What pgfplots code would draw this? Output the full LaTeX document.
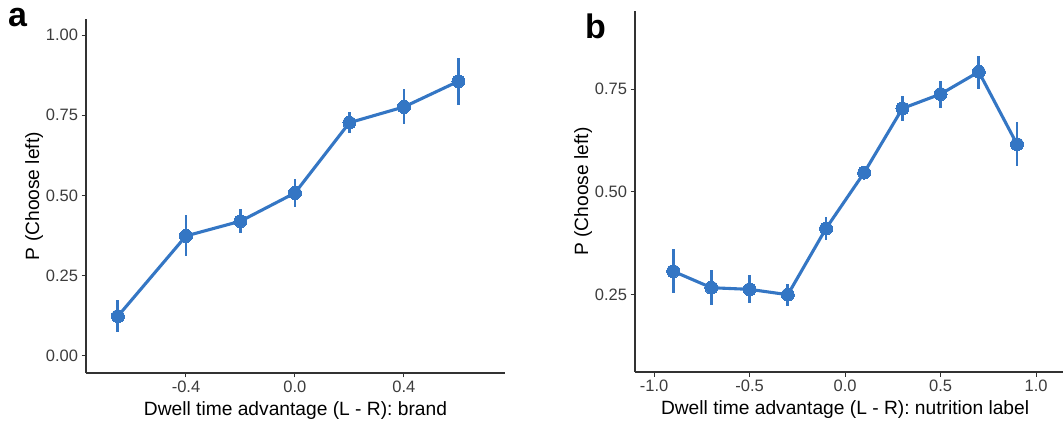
\documentclass[border=0pt]{standalone}
\usepackage{fontspec}
\setmainfont{Liberation Sans}
\usepackage{pgfplots}
\usepackage{pgfplotstable}
\pgfplotsset{compat=1.18}
\definecolor{ptblue}{RGB}{52,118,196}
\definecolor{axgrey}{RGB}{50,50,50}
\definecolor{tickgrey}{RGB}{60,60,60}

\pgfplotstableread{
x y ep em
-0.650 0.124 0.049 0.050
-0.4 0.374 0.065 0.063
-0.2 0.420 0.037 0.038
0.0 0.508 0.044 0.044
0.2 0.727 0.033 0.032
0.4 0.776 0.055 0.054
0.6 0.856 0.074 0.075
}\brandtab

\pgfplotstableread{
x y ep em
-0.9 0.307 0.054 0.054
-0.7 0.267 0.043 0.043
-0.5 0.263 0.034 0.034
-0.3 0.250 0.027 0.027
-0.1 0.411 0.028 0.028
0.1 0.547 0.016 0.016
0.3 0.703 0.030 0.030
0.5 0.738 0.032 0.033
0.7 0.792 0.039 0.041
0.9 0.616 0.053 0.053
}\nutritab

\pgfplotsset{
  panel/.style={
    scale only axis,
    axis lines=left,
    axis line style={-, line width=1.3pt, color=axgrey},
    tick align=outside,
    major tick length=4.5pt,
    tick style={line width=1pt, color=axgrey},
    minor tick num=0,
    ticklabel style={font=\fontsize{16.5}{18}\selectfont, text=tickgrey},
    /pgf/number format/assume math mode=true,
    label style={font=\fontsize{19.2}{21}\selectfont, text=black},
    ylabel style={at={(axis description cs:0,0.5)}, anchor=base, yshift=47pt},
    ylabel={P (Choose left)},
    clip=false,
  },
  dataline/.style={
    color=ptblue, line width=3.1pt, mark=*, mark size=6.5pt,
    mark options={line width=0pt, fill=ptblue, draw=ptblue},
    error bars/.cd, y dir=both, y explicit,
    error mark=none,
    error bar style={line width=2.8pt, color=ptblue},
  },
}

\begin{document}
\begin{tikzpicture}
\useasboundingbox (0pt,0pt) rectangle (1063pt,423pt);

\begin{axis}[panel,
  at={(86pt,50pt)}, anchor=south west,
  width=419pt, height=354pt,
  xmin=-0.767, xmax=0.771, ymin=-0.053, ymax=1.05,
  xtick={-0.4,0,0.4}, xticklabels={-0.4,0.0,0.4},
  ytick={0,0.25,0.5,0.75,1}, yticklabels={0.00,0.25,0.50,0.75,1.00},
  xlabel={Dwell time advantage (L - R): brand},
  xlabel style={at={(axis description cs:0.5,0)}, anchor=base, yshift=-42pt},
]
\addplot+[dataline] table[x=x, y=y, y error plus=ep, y error minus=em] {\brandtab};
\end{axis}

\begin{axis}[panel,
  at={(635pt,51pt)}, anchor=south west,
  width=440pt, height=361pt,
  xmin=-1.1, xmax=1.2037, ymin=0.062, ymax=0.94,
  xtick={-1,-0.5,0,0.5,1}, xticklabels={-1.0,-0.5,0.0,0.5,1.0},
  ytick={0.25,0.5,0.75}, yticklabels={0.25,0.50,0.75},
  xlabel={Dwell time advantage (L - R): nutrition label},
  xlabel style={at={(axis cs:0,0.062)}, anchor=base, yshift=-42pt},
]
\addplot+[dataline] table[x=x, y=y, y error plus=ep, y error minus=em] {\nutritab};
\end{axis}

\node[anchor=base west, inner sep=0pt, font=\bfseries\fontsize{34}{34}\selectfont] at (8pt,396pt) {a};
\node[anchor=base west, inner sep=0pt, font=\bfseries\fontsize{34}{34}\selectfont] at (585pt,384pt) {b};
\end{tikzpicture}
\end{document}
